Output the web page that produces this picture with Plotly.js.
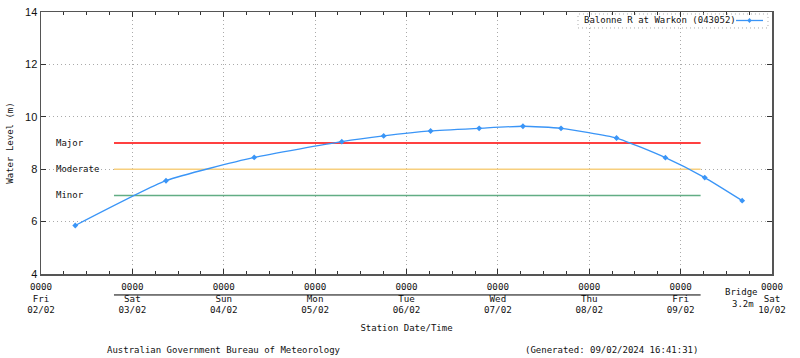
<!DOCTYPE html>
<html>
<head>
<meta charset="utf-8">
<script src="https://cdn.plot.ly/plotly-3.0.1.min.js"></script>
<style>
  html, body { margin: 0; padding: 0; background: #fff; }
  #chart { width: 800px; height: 358px; }
</style>
</head>
<body>
<div id="chart"></div>
<script>
// ---- data ----
const stationName = "Balonne R at Warkon (043052)";
const obsTimes = [
  "2024-02-02 09:00", "2024-02-03 08:50", "2024-02-04 08:00", "2024-02-05 07:00",
  "2024-02-05 18:00", "2024-02-06 06:20", "2024-02-06 19:05", "2024-02-07 06:35",
  "2024-02-07 16:35", "2024-02-08 07:10", "2024-02-08 20:00", "2024-02-09 06:20",
  "2024-02-09 16:10"
];
const obsLevels = [5.85, 7.56, 8.45, 9.05, 9.27, 9.46, 9.56, 9.64, 9.56, 9.19, 8.44, 7.68, 6.80];

const floodNames = ["Major", "Moderate", "Minor"];
const floodLevels = [9, 8, 7];
const floodStart = "2024-02-02 19:10";
const floodEnd = "2024-02-09 05:15";
const bridgeLevel = 3.2;
const bridgeLabel = "Bridge";
const bridgeLabel2 = "3.2m";

const dayTicks = ["2024-02-02", "2024-02-03", "2024-02-04", "2024-02-05", "2024-02-06",
                  "2024-02-07", "2024-02-08", "2024-02-09", "2024-02-10"];
const dayNames = ["Fri", "Sat", "Sun", "Mon", "Tue", "Wed", "Thu", "Fri", "Sat"];
const dayDates = ["02/02", "03/02", "04/02", "05/02", "06/02", "07/02", "08/02", "09/02", "10/02"];
const dayTimes = ["0000", "0000", "0000", "0000", "0000", "0000", "0000", "0000", "0000"];

const yMin = 4, yMax = 14;
const footerLeft = "Australian Government Bureau of Meteorology";
const footerRight = "(Generated: 09/02/2024 16:41:31)";

// ---- styles ----
const floodColors = ["#ff0000", "#f7cf7e", "#62ad84"];
const lineColor = "#3a95f7";
const mono = "DejaVu Sans Mono, monospace";
const txt = "#111";
const gridDash = "1px,3px";

const traces = [];
floodLevels.forEach((lvl, i) => {
  traces.push({
    x: [floodStart, floodEnd], y: [lvl, lvl], mode: "lines", type: "scatter",
    name: floodNames[i], showlegend: false, hoverinfo: "skip",
    line: { color: floodColors[i], width: 1.5 }
  });
});
traces.push({
  x: obsTimes, y: obsLevels, type: "scatter", mode: "lines+markers",
  name: stationName, showlegend: false,
  line: { color: lineColor, width: 1.3, shape: "spline", smoothing: 0.5 },
  marker: { color: lineColor, symbol: "diamond", size: 4.5 }
});

const tickText = dayTicks.map((d, i) => dayTimes[i] + "<br>" + dayNames[i] + "<br>" + dayDates[i]);

const bridgeY = (bridgeLevel - yMin) / (yMax - yMin);
const annotations = floodNames.map((n, i) => ({
  text: n, xref: "paper", yref: "y", x: 0.0178, y: floodLevels[i],
  xanchor: "left", yanchor: "middle", showarrow: false,
  font: { family: mono, size: 9, color: txt }
}));
annotations.push(
  { text: bridgeLabel, xref: "paper", yref: "paper", x: 0.9576, y: bridgeY, yshift: 3,
    xanchor: "center", yanchor: "middle", showarrow: false, font: { family: mono, size: 9, color: txt } },
  { text: bridgeLabel2, xref: "paper", yref: "paper", x: 0.9604, y: bridgeY, yshift: -9,
    xanchor: "center", yanchor: "middle", showarrow: false, font: { family: mono, size: 9, color: txt } },
  { text: footerLeft, xref: "paper", yref: "paper", x: 0.2503, y: -0.290,
    xanchor: "center", yanchor: "middle", showarrow: false, font: { family: mono, size: 9, color: txt } },
  { text: footerRight, xref: "paper", yref: "paper", x: 0.781, y: -0.290,
    xanchor: "center", yanchor: "middle", showarrow: false, font: { family: mono, size: 9, color: txt } },
  { text: stationName, xref: "paper", yref: "paper", x: 0.7401, y: 0.9676,
    xanchor: "left", yanchor: "middle", showarrow: false, font: { family: mono, size: 9, color: txt } }
);

const shapes = [
  { type: "line", xref: "x", yref: "paper", x0: floodStart, x1: floodEnd, y0: bridgeY, y1: bridgeY,
    line: { color: "#000", width: 1 } },
  { type: "rect", xref: "paper", yref: "paper", x0: 0.7346, x1: 0.9945, y0: 0.939, y1: 0.9924,
    line: { color: "#aaa", width: 1, dash: gridDash }, fillcolor: "rgba(0,0,0,0)" },
  { type: "line", xref: "paper", yref: "paper", x0: 0.9508, x1: 0.9877, y0: 0.9676, y1: 0.9676,
    line: { color: lineColor, width: 1.3 } },
  { type: "path", xref: "paper", yref: "paper",
    path: "M 0.9692 0.9762 L 0.9719 0.9676 L 0.9692 0.9590 L 0.9665 0.9676 Z",
    fillcolor: lineColor, line: { color: lineColor, width: 0.5 } }
];

const layout = {
  width: 800, height: 358,
  margin: { l: 41, r: 28, t: 12, b: 84 },
  paper_bgcolor: "#fff", plot_bgcolor: "#fff",
  showlegend: false,
  xaxis: {
    type: "date", range: [dayTicks[0], dayTicks[dayTicks.length - 1]],
    tickmode: "array", tickvals: dayTicks, ticktext: tickText,
    ticks: "inside", ticklen: 5, tickcolor: "#333", mirror: "ticks",
    showline: true, linecolor: "#555", linewidth: 1.5,
    showgrid: true, gridcolor: "#aaa", griddash: gridDash, gridwidth: 1,
    zeroline: false, ticklabelstandoff: 3,
    tickfont: { family: mono, size: 9.2, color: txt },
    minor: { tickmode: "linear", tick0: dayTicks[0], dtick: 21600000, ticks: "inside", ticklen: 3, tickcolor: "#333", showgrid: false },
    title: { text: "Station Date/Time", font: { family: mono, size: 9, color: txt }, standoff: 10 },
    automargin: false
  },
  yaxis: {
    range: [yMin, yMax], dtick: 2, tick0: 0,
    ticks: "inside", ticklen: 5, tickcolor: "#333", mirror: "ticks",
    showline: true, linecolor: "#555", linewidth: 1.5,
    showgrid: true, gridcolor: "#aaa", griddash: gridDash, gridwidth: 1,
    zeroline: false,
    tickfont: { family: "Liberation Sans, Arial, sans-serif", size: 11, color: txt },
    title: { text: "Water Level (m)", font: { family: mono, size: 9, color: txt }, standoff: 10 },
    automargin: false
  },
  annotations: annotations,
  shapes: shapes
};

Plotly.newPlot("chart", traces, layout, { displayModeBar: false, staticPlot: true });
</script>
</body>
</html>
